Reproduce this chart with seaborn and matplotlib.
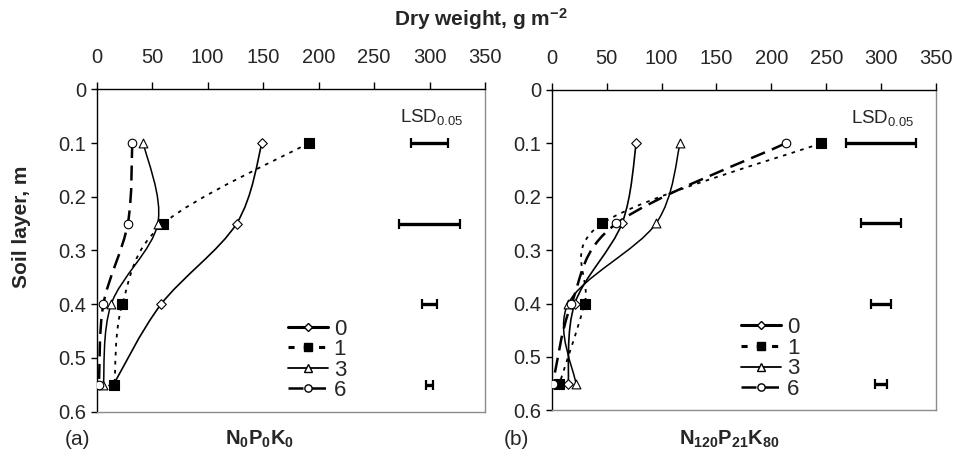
import numpy as np
import matplotlib
matplotlib.use("Agg")
import matplotlib.pyplot as plt
from matplotlib.path import Path
from matplotlib.patches import PathPatch
from matplotlib.lines import Line2D
import seaborn as sns

sns.set_style("ticks")
plt.rcParams['font.family'] = ['Liberation Sans', 'DejaVu Sans']
plt.rcParams['mathtext.fontset'] = 'custom'
plt.rcParams['mathtext.rm'] = 'Liberation Sans'
plt.rcParams['mathtext.it'] = 'Liberation Sans:italic'
plt.rcParams['mathtext.bf'] = 'Liberation Sans:bold'

# -----------------------------------------
# DATA
# -----------------------------------------
depth = [0.1, 0.25, 0.4, 0.55]
years = ["0", "1", "3", "6"]

# (a) N0P0K0
a_0 = [149, 126, 58, 15]
a_1 = [191, 60, 23, 16]
a_3 = [42, 55, 13, 6]
a_6 = [32, 28, 6, 2]

# (b) N120P21K80
b_0 = [77, 64, 21, 15]
b_1 = [245, 46, 30, 7]
b_3 = [117, 95, 15, 22]
b_6 = [213, 59, 18, 1]

lsd_center = [300, 300, 300, 300]
lsd_a = [16.5, 27.5, 7, 3.3]
lsd_b = [32, 18.5, 9.2, 5.5]

panels = [
    ("(a)", r"$\mathbf{N_{0}P_{0}K_{0}}$", [a_0, a_1, a_3, a_6], lsd_a),
    ("(b)", r"$\mathbf{N_{120}P_{21}K_{80}}$", [b_0, b_1, b_3, b_6], lsd_b),
]

# style per year
styles = {
    "0": dict(marker="D", fc="white", ls="-", lw=1.2, s=24, leg_lw=2.2),
    "1": dict(marker="s", fc="black", ls=(0, (2, 3)), lw=1.3, s=46, leg_lw=2.2),
    "3": dict(marker="^", fc="white", ls="-", lw=1.1, s=40, leg_lw=1.3),
    "6": dict(marker="o", fc="white", ls=(0, (6, 3)), lw=1.8, s=38, leg_lw=1.8),
}


def smooth_path(xs, ys):
    # Catmull-Rom style bezier through the points (like Excel smoothed lines)
    pts = np.column_stack([xs, ys]).astype(float)
    ext = np.vstack([pts[0], pts, pts[-1]])
    verts = [pts[0]]
    codes = [Path.MOVETO]
    for i in range(len(pts) - 1):
        p0, p1, p2, p3 = ext[i], ext[i + 1], ext[i + 2], ext[i + 3]
        c1 = p1 + (p2 - p0) / 6.0
        c2 = p2 - (p3 - p1) / 6.0
        verts += [c1, c2, p2]
        codes += [Path.CURVE4] * 3
    return Path(verts, codes)


fig = plt.figure(figsize=(9.55, 4.54), dpi=100)
axes = [
    fig.add_axes([0.1013, 0.0932, 0.4066, 0.7101]),
    fig.add_axes([0.5777, 0.0960, 0.4024, 0.7060]),
]

for ax, (tag, treat, series, lsd) in zip(axes, panels):
    for yr, vals in zip(years, series):
        st = styles[yr]
        ax.add_patch(PathPatch(smooth_path(vals, depth), fill=False,
                               edgecolor="black", lw=st["lw"], ls=st["ls"],
                               zorder=2))
        sns.scatterplot(x=vals, y=depth, ax=ax, marker=st["marker"],
                        color=st["fc"], edgecolor="black", linewidth=0.8,
                        s=st["s"], zorder=3, legend=False)

    ax.errorbar(lsd_center, depth, xerr=lsd, fmt="none", ecolor="black",
                elinewidth=2.4, capsize=3.5, capthick=1.6, zorder=2)
    ax.text(302, 0.052, r"LSD$_{\mathrm{0.05}}$", ha="center", va="center",
            fontsize=13.5)

    ax.set_xlim(0, 350)
    ax.set_ylim(0.6, 0)
    ax.set_xticks(np.arange(0, 351, 50))
    ax.set_yticks(np.arange(0, 0.61, 0.1))
    ax.set_yticklabels(["0", "0.1", "0.2", "0.3", "0.4", "0.5", "0.6"])
    ax.xaxis.tick_top()
    ax.tick_params(axis="x", direction="out", length=4.8, width=1,
                   pad=11, labelsize=14.5, color="black")
    ax.tick_params(axis="y", direction="out", length=4.5, width=1,
                   pad=3, labelsize=14.5, color="black")
    for side in ["left", "top"]:
        ax.spines[side].set_color("black")
        ax.spines[side].set_linewidth(1.0)
    for side in ["right", "bottom"]:
        ax.spines[side].set_visible(True)
        ax.spines[side].set_color("#8c8c8c")
        ax.spines[side].set_linewidth(1.0)

    handles = []
    for yr in years:
        st = styles[yr]
        handles.append(Line2D([], [], color="black", lw=st["leg_lw"],
                              ls=st["ls"], marker=st["marker"],
                              markerfacecolor=st["fc"],
                              markeredgecolor="black",
                              markersize=np.sqrt(st["s"]) * 0.85))
    ax.legend(handles, years, loc="lower left", bbox_to_anchor=(0.47, 0.005),
              frameon=False, fontsize=16, handlelength=1.8,
              handletextpad=0.25, labelspacing=-0.02, borderaxespad=0)

    ax.set_xlabel("")
    ax.set_ylabel("")

fig.text(0.068, 0.032, "(a)", fontsize=15, ha="left", va="center")
fig.text(0.272, 0.032, panels[0][1], fontsize=14.5, ha="center", va="center")
fig.text(0.528, 0.032, "(b)", fontsize=15, ha="left", va="center")
fig.text(0.764, 0.032, panels[1][1], fontsize=14.5, ha="center", va="center")

fig.text(0.504, 0.958, r"Dry weight, g m$^{\mathbf{-2}}$", fontsize=15,
         fontweight="bold", ha="center", va="center")
fig.text(0.022, 0.50, "Soil layer, m", fontsize=15, fontweight="bold",
         rotation=90, ha="center", va="center")

fig.savefig("out.png", dpi=100)
